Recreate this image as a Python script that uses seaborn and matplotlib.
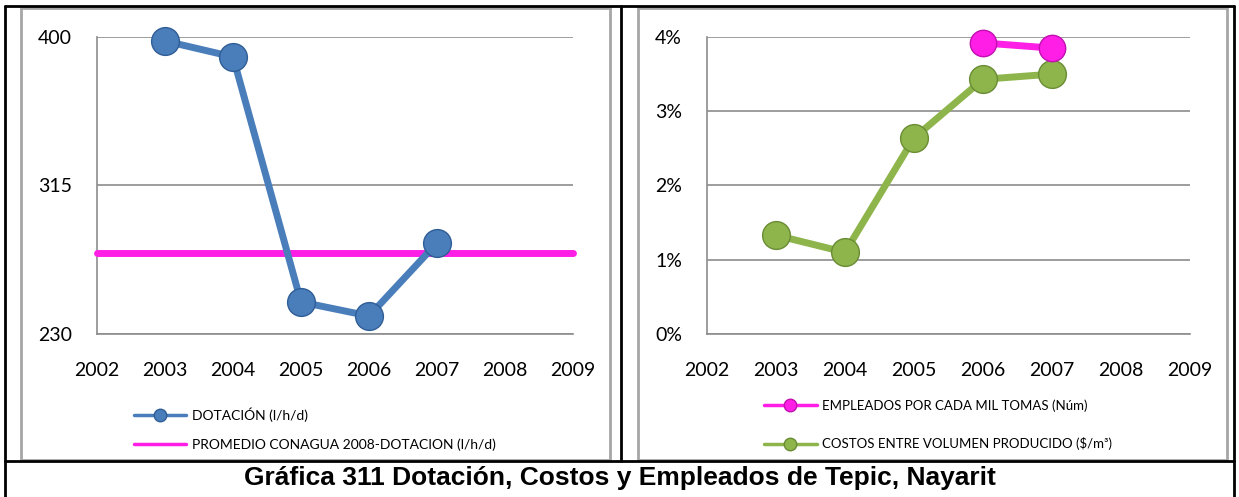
import matplotlib
import matplotlib.pyplot as plt
import numpy as np
import pandas as pd
import seaborn as sns
from matplotlib.lines import Line2D
from matplotlib.patches import Rectangle

matplotlib.use("Agg")

YEARS = [2003, 2004, 2005, 2006, 2007]
DOTACION = [397.7, 388.6, 248.3, 240.3, 282.1]
PROMEDIO_CONAGUA = 276.4

EMPLEADOS_YEARS = [2006, 2007]
EMPLEADOS = [3.92, 3.85]
COSTOS = [1.33, 1.10, 2.64, 3.43, 3.50]

X_TICKS = [2002, 2003, 2004, 2005, 2006, 2007, 2008, 2009]
LEFT_Y_TICKS = [230, 315, 400]
RIGHT_Y_TICKS = [0, 1, 2, 3, 4]

TITLE = "Gráfica 311 Dotación, Costos y Empleados de Tepic, Nayarit"

BLUE = "#4a7ebb"
MAGENTA = "#ff1ee6"
GREEN = "#8db54b"
GRID = "#8c8c8c"

sns.set_theme(style="white")
plt.rcParams["font.family"] = ["Lato", "DejaVu Sans"]
plt.rcParams["text.color"] = "black"


def style_axes(ax, yticks, ylabels):
    ax.set_xlim(X_TICKS[0], X_TICKS[-1])
    ax.set_ylim(yticks[0], yticks[-1])
    ax.set_xticks(X_TICKS)
    ax.set_xticklabels([str(x) for x in X_TICKS], fontsize=14)
    ax.set_yticks(yticks)
    ax.set_yticklabels(ylabels, fontsize=14)
    ax.set_xlabel("")
    ax.set_ylabel("")
    ax.grid(axis="y", color=GRID, linewidth=1.2)
    ax.grid(axis="x", visible=False)
    for side in ["top", "right"]:
        ax.spines[side].set_visible(False)
    for side in ["left", "bottom"]:
        ax.spines[side].set_color(GRID)
        ax.spines[side].set_linewidth(1.2)
    ax.tick_params(axis="x", direction="out", length=6, color=GRID, width=1.2, pad=14, labelcolor="black")
    ax.tick_params(axis="y", direction="out", length=5, color=GRID, width=1.2, pad=13, labelcolor="black")
    ax.set_facecolor("white")


fig = plt.figure(figsize=(12.39, 4.97), dpi=100, facecolor="white")

# table frame
for coords in [((0.004, 0.996), (0.988, 0.988)),
               ((0.004, 0.004), (0.0, 0.988)),
               ((0.501, 0.501), (0.072, 0.988)),
               ((0.996, 0.996), (0.0, 0.988)),
               ((0.004, 0.996), (0.072, 0.072))]:
    fig.add_artist(Line2D(coords[0], coords[1], color="black", linewidth=2, transform=fig.transFigure))
for x0, x1 in [(0.017, 0.492), (0.515, 0.990)]:
    fig.add_artist(Rectangle((x0, 0.075), x1 - x0, 0.908, fill=False, edgecolor="#a6a6a6",
                             linewidth=2, transform=fig.transFigure))

# left chart
ax1 = fig.add_axes([0.0783, 0.328, 0.3842, 0.5976])
left_df = pd.DataFrame({"year": YEARS, "value": DOTACION})
ax1.axhline(PROMEDIO_CONAGUA, color=MAGENTA, linewidth=5, solid_capstyle="round", zorder=3)
sns.lineplot(data=left_df, x="year", y="value", ax=ax1, color=BLUE, linewidth=5,
             marker="o", markersize=20, markeredgecolor="#2f5d95", markeredgewidth=1, zorder=4)
style_axes(ax1, LEFT_Y_TICKS, [str(v) for v in LEFT_Y_TICKS])
for line in ax1.lines:
    line.set_clip_on(False)

left_handles = [
    Line2D([], [], color=BLUE, linewidth=2.5, marker="o", markersize=9,
           markeredgecolor="#2f5d95"),
    Line2D([], [], color=MAGENTA, linewidth=2.5),
]
fig.legend(left_handles, ["DOTACIÓN (l/h/d)", "PROMEDIO CONAGUA 2008-DOTACION (l/h/d)"],
           loc="upper left", bbox_to_anchor=(0.098, 0.205), frameon=False, fontsize=10,
           handlelength=3.75, labelspacing=1.15, handletextpad=0.4)

# right chart
ax2 = fig.add_axes([0.5706, 0.328, 0.3899, 0.5976])
costos_df = pd.DataFrame({"year": YEARS, "value": COSTOS})
empleados_df = pd.DataFrame({"year": EMPLEADOS_YEARS, "value": EMPLEADOS})
sns.lineplot(data=costos_df, x="year", y="value", ax=ax2, color=GREEN, linewidth=5,
             marker="o", markersize=20, markeredgecolor="#6a8c34", markeredgewidth=1, zorder=4)
sns.lineplot(data=empleados_df, x="year", y="value", ax=ax2, color=MAGENTA, linewidth=5,
             marker="o", markersize=19, markeredgecolor="#c010b0", markeredgewidth=1, zorder=4)
style_axes(ax2, RIGHT_Y_TICKS, [f"{v}%" for v in RIGHT_Y_TICKS])
for line in ax2.lines:
    line.set_clip_on(False)

right_handles = [
    Line2D([], [], color=MAGENTA, linewidth=2.5, marker="o", markersize=9,
           markeredgecolor="#c010b0"),
    Line2D([], [], color=GREEN, linewidth=2.5, marker="o", markersize=9,
           markeredgecolor="#6a8c34"),
]
fig.legend(right_handles, ["EMPLEADOS POR CADA MIL TOMAS (Núm)", "COSTOS ENTRE VOLUMEN PRODUCIDO ($/m³)"],
           loc="upper left", bbox_to_anchor=(0.607, 0.22), frameon=False, fontsize=9.5,
           handlelength=4.0, labelspacing=1.9, handletextpad=0.4)

fig.text(0.5, 0.038, TITLE, ha="center", va="center", fontsize=19, fontweight="bold",
         color="black", family=["Liberation Sans", "DejaVu Sans"])

fig.savefig("out.png", dpi=100, facecolor="white")
plt.close(fig)
